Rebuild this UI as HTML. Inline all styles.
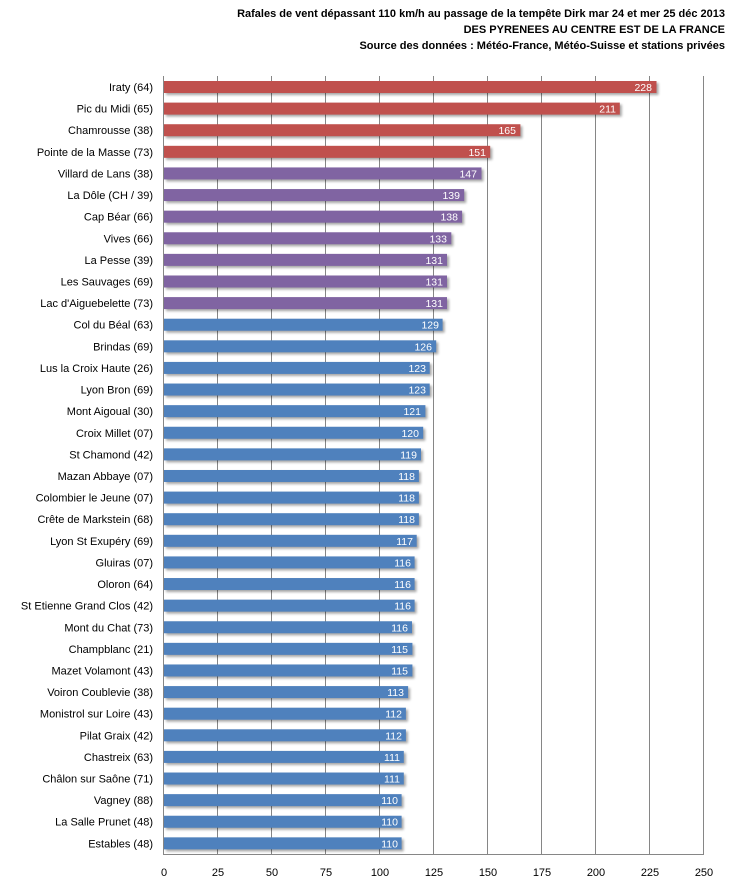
<!DOCTYPE html>
<html><head><meta charset="utf-8"><style>
html,body{margin:0;padding:0;background:#fff;width:730px;height:890px;overflow:hidden}
svg{display:block;font-family:"Liberation Sans",sans-serif}
.l{font-size:11px;fill:#000;text-anchor:end}
.v{font-size:10.5px;fill:#fff;text-anchor:end}
.t{font-size:11px;font-weight:bold;text-anchor:end}
.a{font-size:11px;text-anchor:middle}
</style></head><body>
<svg width="730" height="890" viewBox="0 0 730 890">
<defs><filter id="s" x="-5%" y="-50%" width="110%" height="200%"><feGaussianBlur stdDeviation="1.2"/></filter></defs>
<text class="t" x="725" y="17">Rafales de vent dépassant 110 km/h au passage  de la tempête Dirk mar 24 et mer 25 déc 2013</text>
<text class="t" x="725" y="33">DES PYRENEES  AU CENTRE  EST  DE LA FRANCE</text>
<text class="t" x="725" y="49">Source des données : Météo-France, Météo-Suisse et stations privées</text>
<g stroke="#868686" stroke-width="1">
<line x1="217.5" y1="76" x2="217.5" y2="854"/><line x1="271.5" y1="76" x2="271.5" y2="854"/><line x1="325.5" y1="76" x2="325.5" y2="854"/><line x1="379.5" y1="76" x2="379.5" y2="854"/><line x1="433.5" y1="76" x2="433.5" y2="854"/><line x1="487.5" y1="76" x2="487.5" y2="854"/><line x1="541.5" y1="76" x2="541.5" y2="854"/><line x1="595.5" y1="76" x2="595.5" y2="854"/><line x1="649.5" y1="76" x2="649.5" y2="854"/><line x1="703.5" y1="76" x2="703.5" y2="854"/>
<line x1="163.5" y1="76" x2="163.5" y2="854"/><line x1="163" y1="854.5" x2="704" y2="854.5"/>
</g>
<g>
<text class="a" x="164" y="876">0</text><text class="a" x="218" y="876">25</text><text class="a" x="272" y="876">50</text><text class="a" x="326" y="876">75</text><text class="a" x="380" y="876">100</text><text class="a" x="434" y="876">125</text><text class="a" x="488" y="876">150</text><text class="a" x="542" y="876">175</text><text class="a" x="596" y="876">200</text><text class="a" x="650" y="876">225</text><text class="a" x="704" y="876">250</text>
</g>
<g>
<g transform="translate(0,0)"><rect x="166" y="83" width="492.5" height="12" fill="#000" opacity=".35" filter="url(#s)"/><rect x="164" y="81" width="492.5" height="12" fill="#c0504d"/><text class="v" x="652" y="91">228</text><text class="l" x="153" y="91">Iraty (64)</text></g>
<g transform="translate(0,21.61)"><rect x="166" y="83" width="455.8" height="12" fill="#000" opacity=".35" filter="url(#s)"/><rect x="164" y="81" width="455.8" height="12" fill="#c0504d"/><text class="v" x="616" y="91">211</text><text class="l" x="153" y="91">Pic du Midi (65)</text></g>
<g transform="translate(0,43.22)"><rect x="166" y="83" width="356.4" height="12" fill="#000" opacity=".35" filter="url(#s)"/><rect x="164" y="81" width="356.4" height="12" fill="#c0504d"/><text class="v" x="516" y="91">165</text><text class="l" x="153" y="91">Chamrousse (38)</text></g>
<g transform="translate(0,64.83)"><rect x="166" y="83" width="326.2" height="12" fill="#000" opacity=".35" filter="url(#s)"/><rect x="164" y="81" width="326.2" height="12" fill="#c0504d"/><text class="v" x="486" y="91">151</text><text class="l" x="153" y="91">Pointe de la Masse (73)</text></g>
<g transform="translate(0,86.44)"><rect x="166" y="83" width="317.5" height="12" fill="#000" opacity=".35" filter="url(#s)"/><rect x="164" y="81" width="317.5" height="12" fill="#8064a2"/><text class="v" x="477" y="91">147</text><text class="l" x="153" y="91">Villard de Lans (38)</text></g>
<g transform="translate(0,108.05)"><rect x="166" y="83" width="300.2" height="12" fill="#000" opacity=".35" filter="url(#s)"/><rect x="164" y="81" width="300.2" height="12" fill="#8064a2"/><text class="v" x="460" y="91">139</text><text class="l" x="153" y="91">La Dôle (CH / 39)</text></g>
<g transform="translate(0,129.66)"><rect x="166" y="83" width="298.1" height="12" fill="#000" opacity=".35" filter="url(#s)"/><rect x="164" y="81" width="298.1" height="12" fill="#8064a2"/><text class="v" x="458" y="91">138</text><text class="l" x="153" y="91">Cap Béar (66)</text></g>
<g transform="translate(0,151.27)"><rect x="166" y="83" width="287.3" height="12" fill="#000" opacity=".35" filter="url(#s)"/><rect x="164" y="81" width="287.3" height="12" fill="#8064a2"/><text class="v" x="447" y="91">133</text><text class="l" x="153" y="91">Vives (66)</text></g>
<g transform="translate(0,172.88)"><rect x="166" y="83" width="283" height="12" fill="#000" opacity=".35" filter="url(#s)"/><rect x="164" y="81" width="283" height="12" fill="#8064a2"/><text class="v" x="443" y="91">131</text><text class="l" x="153" y="91">La Pesse (39)</text></g>
<g transform="translate(0,194.49)"><rect x="166" y="83" width="283" height="12" fill="#000" opacity=".35" filter="url(#s)"/><rect x="164" y="81" width="283" height="12" fill="#8064a2"/><text class="v" x="443" y="91">131</text><text class="l" x="153" y="91">Les Sauvages (69)</text></g>
<g transform="translate(0,216.1)"><rect x="166" y="83" width="283" height="12" fill="#000" opacity=".35" filter="url(#s)"/><rect x="164" y="81" width="283" height="12" fill="#8064a2"/><text class="v" x="443" y="91">131</text><text class="l" x="153" y="91">Lac d'Aiguebelette (73)</text></g>
<g transform="translate(0,237.71)"><rect x="166" y="83" width="278.6" height="12" fill="#000" opacity=".35" filter="url(#s)"/><rect x="164" y="81" width="278.6" height="12" fill="#4f81bd"/><text class="v" x="439" y="91">129</text><text class="l" x="153" y="91">Col du Béal (63)</text></g>
<g transform="translate(0,259.32)"><rect x="166" y="83" width="272.2" height="12" fill="#000" opacity=".35" filter="url(#s)"/><rect x="164" y="81" width="272.2" height="12" fill="#4f81bd"/><text class="v" x="432" y="91">126</text><text class="l" x="153" y="91">Brindas (69)</text></g>
<g transform="translate(0,280.93)"><rect x="166" y="83" width="265.7" height="12" fill="#000" opacity=".35" filter="url(#s)"/><rect x="164" y="81" width="265.7" height="12" fill="#4f81bd"/><text class="v" x="426" y="91">123</text><text class="l" x="153" y="91">Lus la Croix Haute (26)</text></g>
<g transform="translate(0,302.54)"><rect x="166" y="83" width="265.7" height="12" fill="#000" opacity=".35" filter="url(#s)"/><rect x="164" y="81" width="265.7" height="12" fill="#4f81bd"/><text class="v" x="426" y="91">123</text><text class="l" x="153" y="91">Lyon Bron (69)</text></g>
<g transform="translate(0,324.15)"><rect x="166" y="83" width="261.4" height="12" fill="#000" opacity=".35" filter="url(#s)"/><rect x="164" y="81" width="261.4" height="12" fill="#4f81bd"/><text class="v" x="421" y="91">121</text><text class="l" x="153" y="91">Mont Aigoual (30)</text></g>
<g transform="translate(0,345.76)"><rect x="166" y="83" width="259.2" height="12" fill="#000" opacity=".35" filter="url(#s)"/><rect x="164" y="81" width="259.2" height="12" fill="#4f81bd"/><text class="v" x="419" y="91">120</text><text class="l" x="153" y="91">Croix Millet (07)</text></g>
<g transform="translate(0,367.37)"><rect x="166" y="83" width="257" height="12" fill="#000" opacity=".35" filter="url(#s)"/><rect x="164" y="81" width="257" height="12" fill="#4f81bd"/><text class="v" x="417" y="91">119</text><text class="l" x="153" y="91">St Chamond (42)</text></g>
<g transform="translate(0,388.98)"><rect x="166" y="83" width="254.9" height="12" fill="#000" opacity=".35" filter="url(#s)"/><rect x="164" y="81" width="254.9" height="12" fill="#4f81bd"/><text class="v" x="415" y="91">118</text><text class="l" x="153" y="91">Mazan Abbaye (07)</text></g>
<g transform="translate(0,410.59)"><rect x="166" y="83" width="254.9" height="12" fill="#000" opacity=".35" filter="url(#s)"/><rect x="164" y="81" width="254.9" height="12" fill="#4f81bd"/><text class="v" x="415" y="91">118</text><text class="l" x="153" y="91">Colombier le Jeune (07)</text></g>
<g transform="translate(0,432.2)"><rect x="166" y="83" width="254.9" height="12" fill="#000" opacity=".35" filter="url(#s)"/><rect x="164" y="81" width="254.9" height="12" fill="#4f81bd"/><text class="v" x="415" y="91">118</text><text class="l" x="153" y="91">Crête de Markstein (68)</text></g>
<g transform="translate(0,453.81)"><rect x="166" y="83" width="252.7" height="12" fill="#000" opacity=".35" filter="url(#s)"/><rect x="164" y="81" width="252.7" height="12" fill="#4f81bd"/><text class="v" x="413" y="91">117</text><text class="l" x="153" y="91">Lyon St Exupéry (69)</text></g>
<g transform="translate(0,475.42)"><rect x="166" y="83" width="250.6" height="12" fill="#000" opacity=".35" filter="url(#s)"/><rect x="164" y="81" width="250.6" height="12" fill="#4f81bd"/><text class="v" x="411" y="91">116</text><text class="l" x="153" y="91">Gluiras (07)</text></g>
<g transform="translate(0,497.03)"><rect x="166" y="83" width="250.6" height="12" fill="#000" opacity=".35" filter="url(#s)"/><rect x="164" y="81" width="250.6" height="12" fill="#4f81bd"/><text class="v" x="411" y="91">116</text><text class="l" x="153" y="91">Oloron (64)</text></g>
<g transform="translate(0,518.64)"><rect x="166" y="83" width="250.6" height="12" fill="#000" opacity=".35" filter="url(#s)"/><rect x="164" y="81" width="250.6" height="12" fill="#4f81bd"/><text class="v" x="411" y="91">116</text><text class="l" x="153" y="91">St Etienne Grand Clos (42)</text></g>
<g transform="translate(0,540.25)"><rect x="166" y="83" width="248" height="12" fill="#000" opacity=".35" filter="url(#s)"/><rect x="164" y="81" width="248" height="12" fill="#4f81bd"/><text class="v" x="408" y="91">116</text><text class="l" x="153" y="91">Mont du Chat (73)</text></g>
<g transform="translate(0,561.86)"><rect x="166" y="83" width="248.4" height="12" fill="#000" opacity=".35" filter="url(#s)"/><rect x="164" y="81" width="248.4" height="12" fill="#4f81bd"/><text class="v" x="408" y="91">115</text><text class="l" x="153" y="91">Champblanc (21)</text></g>
<g transform="translate(0,583.47)"><rect x="166" y="83" width="248.4" height="12" fill="#000" opacity=".35" filter="url(#s)"/><rect x="164" y="81" width="248.4" height="12" fill="#4f81bd"/><text class="v" x="408" y="91">115</text><text class="l" x="153" y="91">Mazet Volamont (43)</text></g>
<g transform="translate(0,605.08)"><rect x="166" y="83" width="244.1" height="12" fill="#000" opacity=".35" filter="url(#s)"/><rect x="164" y="81" width="244.1" height="12" fill="#4f81bd"/><text class="v" x="404" y="91">113</text><text class="l" x="153" y="91">Voiron Coublevie (38)</text></g>
<g transform="translate(0,626.69)"><rect x="166" y="83" width="241.9" height="12" fill="#000" opacity=".35" filter="url(#s)"/><rect x="164" y="81" width="241.9" height="12" fill="#4f81bd"/><text class="v" x="402" y="91">112</text><text class="l" x="153" y="91">Monistrol sur Loire (43)</text></g>
<g transform="translate(0,648.3)"><rect x="166" y="83" width="241.9" height="12" fill="#000" opacity=".35" filter="url(#s)"/><rect x="164" y="81" width="241.9" height="12" fill="#4f81bd"/><text class="v" x="402" y="91">112</text><text class="l" x="153" y="91">Pilat Graix (42)</text></g>
<g transform="translate(0,669.91)"><rect x="166" y="83" width="239.8" height="12" fill="#000" opacity=".35" filter="url(#s)"/><rect x="164" y="81" width="239.8" height="12" fill="#4f81bd"/><text class="v" x="400" y="91">111</text><text class="l" x="153" y="91">Chastreix (63)</text></g>
<g transform="translate(0,691.52)"><rect x="166" y="83" width="239.8" height="12" fill="#000" opacity=".35" filter="url(#s)"/><rect x="164" y="81" width="239.8" height="12" fill="#4f81bd"/><text class="v" x="400" y="91">111</text><text class="l" x="153" y="91">Châlon sur Saône (71)</text></g>
<g transform="translate(0,713.13)"><rect x="166" y="83" width="237.6" height="12" fill="#000" opacity=".35" filter="url(#s)"/><rect x="164" y="81" width="237.6" height="12" fill="#4f81bd"/><text class="v" x="398" y="91">110</text><text class="l" x="153" y="91">Vagney (88)</text></g>
<g transform="translate(0,734.74)"><rect x="166" y="83" width="237.6" height="12" fill="#000" opacity=".35" filter="url(#s)"/><rect x="164" y="81" width="237.6" height="12" fill="#4f81bd"/><text class="v" x="398" y="91">110</text><text class="l" x="153" y="91">La Salle Prunet (48)</text></g>
<g transform="translate(0,756.35)"><rect x="166" y="83" width="237.6" height="12" fill="#000" opacity=".35" filter="url(#s)"/><rect x="164" y="81" width="237.6" height="12" fill="#4f81bd"/><text class="v" x="398" y="91">110</text><text class="l" x="153" y="91">Estables (48)</text></g>
</g>
</svg>
</body></html>
